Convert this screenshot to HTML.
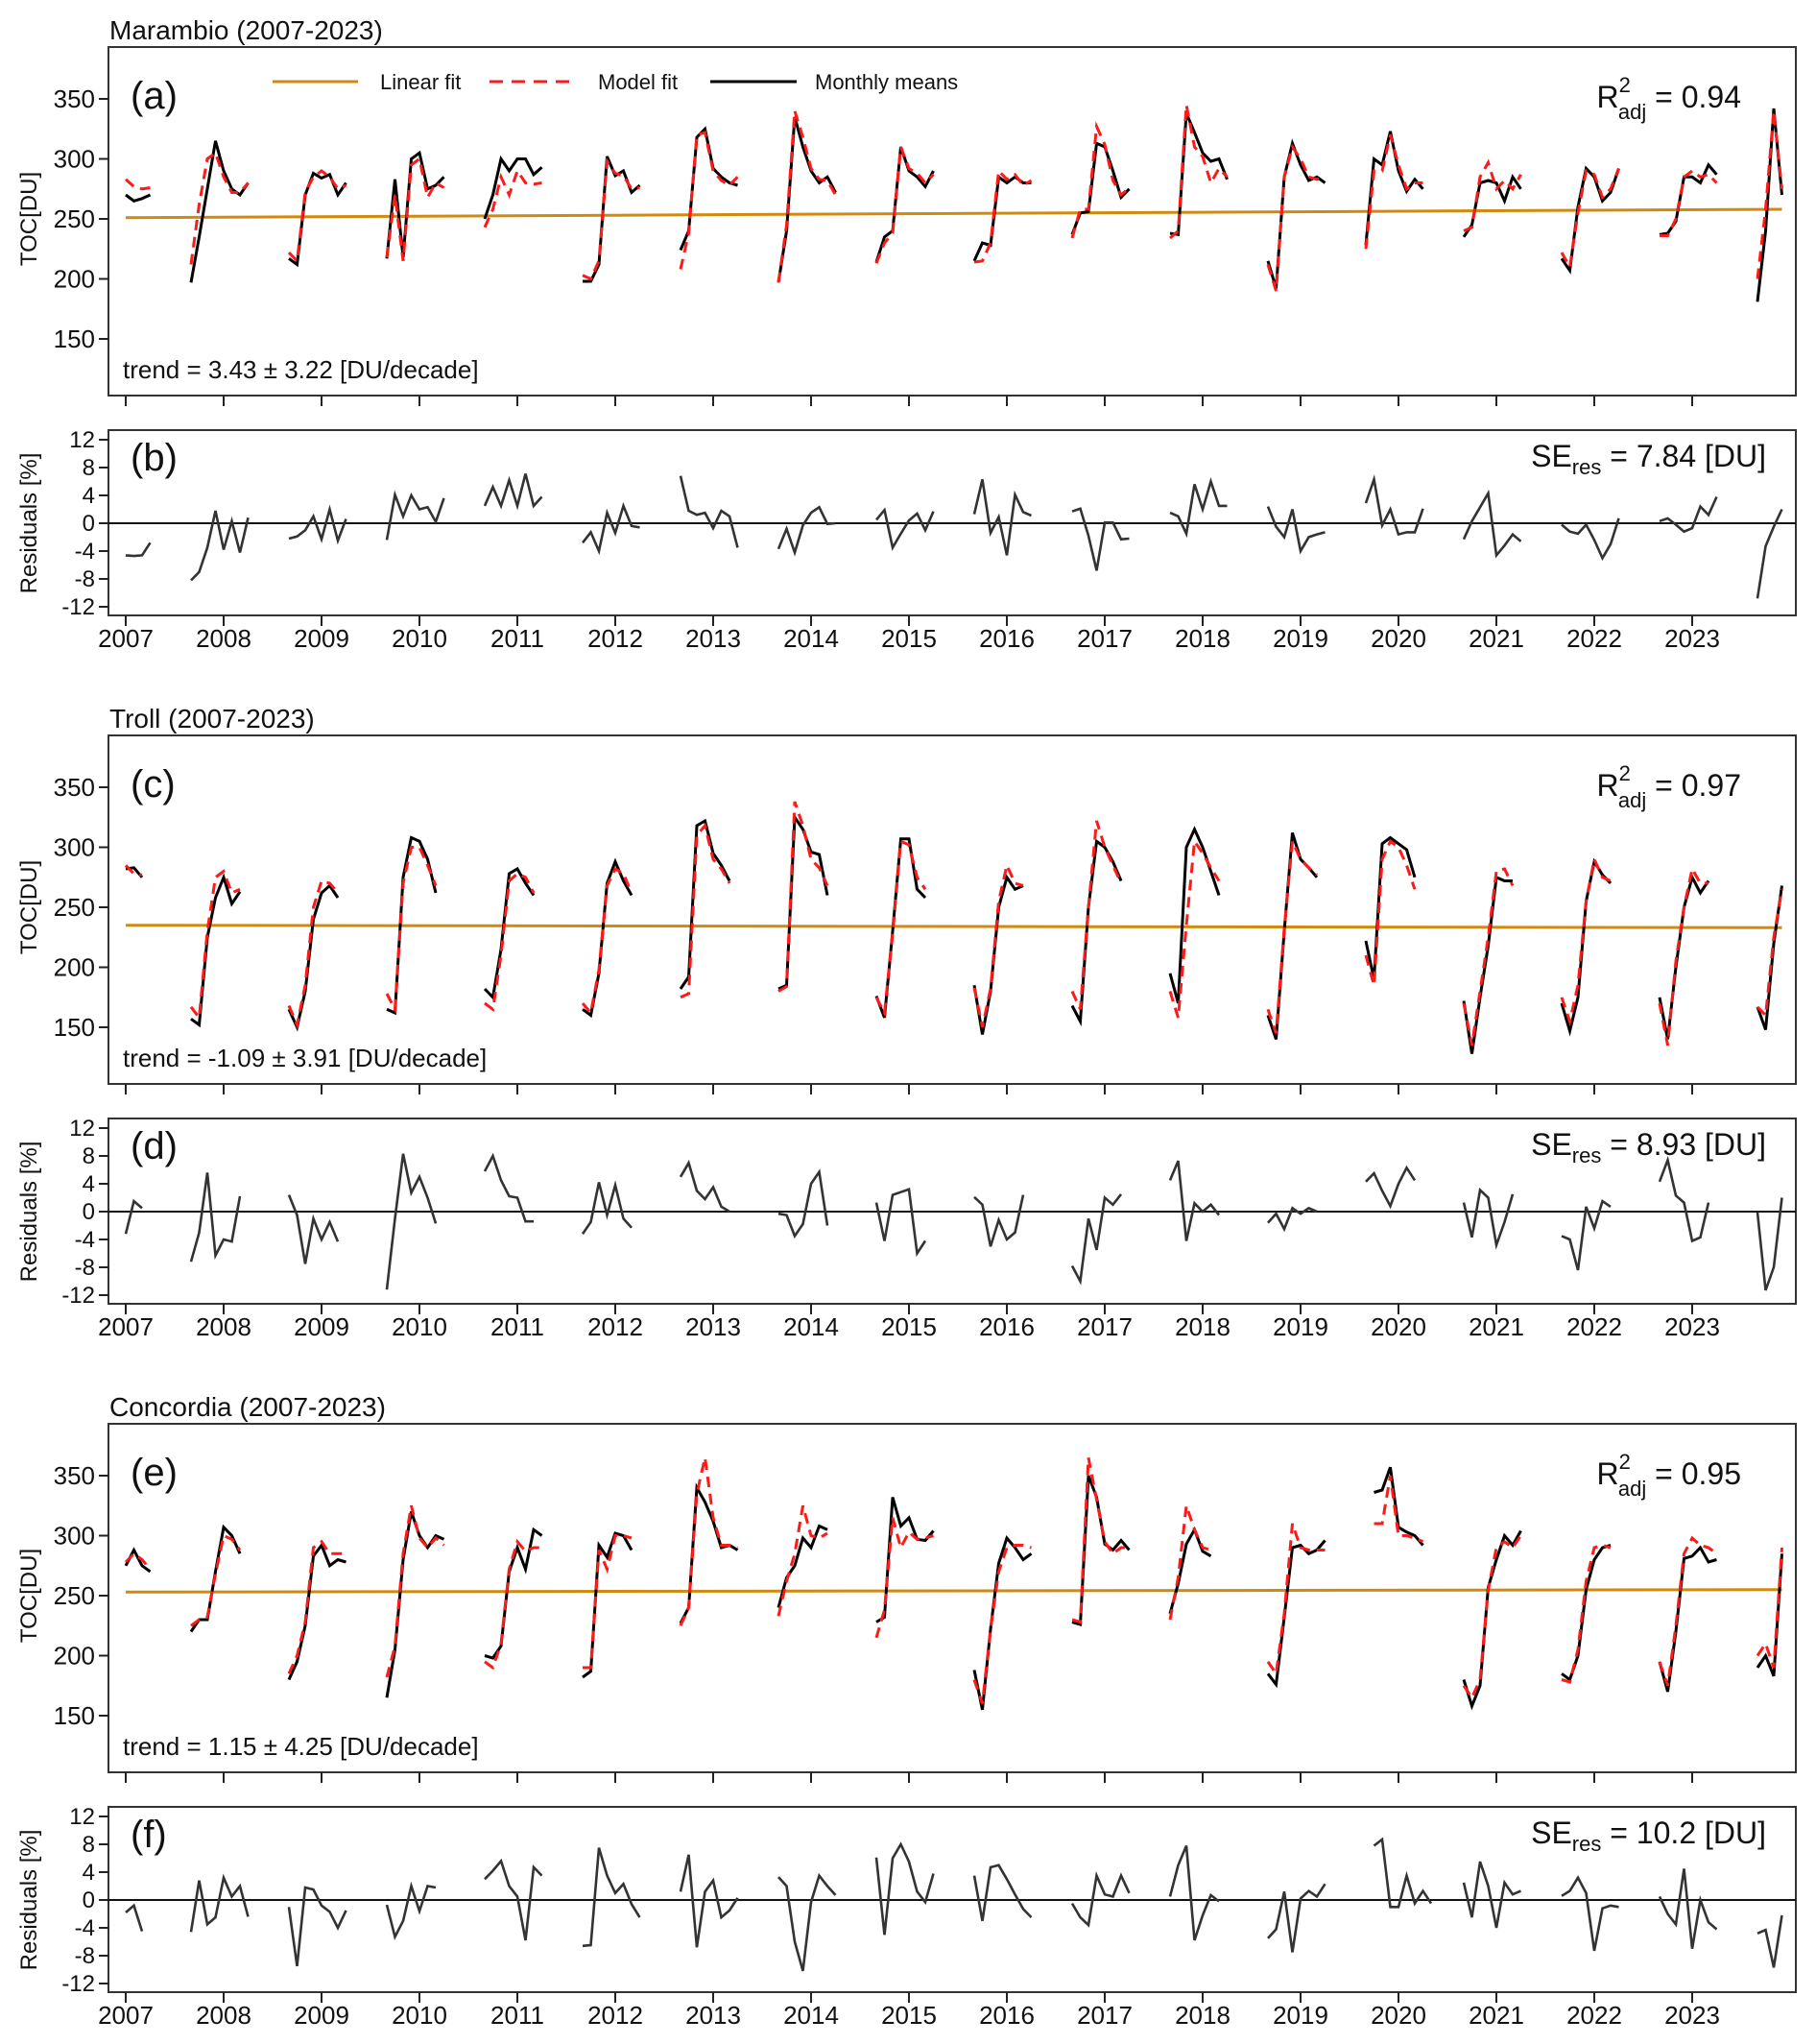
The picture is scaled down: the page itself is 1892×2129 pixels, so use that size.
<!DOCTYPE html>
<html><head><meta charset="utf-8"><style>
html,body{margin:0;padding:0;background:#fff;}
svg{display:block;font-family:"Liberation Sans",Arial,sans-serif;}
</style></head><body>
<svg id="fig" width="1892" height="2129" viewBox="0 0 1892 2129" xmlns="http://www.w3.org/2000/svg"></svg>
<script>
// ---------- data ----------
const yearTicks = [2007,2008,2009,2010,2011,2012,2013,2014,2015,2016,2017,2018,2019,2020,2021,2022,2023];
const tocTicks = [150,200,250,300,350];
const resTicks = [-12,-8,-4,0,4,8,12];
const stationNames = ["Marambio (2007-2023)","Troll (2007-2023)","Concordia (2007-2023)"];
const panelLetters = [["(a)","(b)"],["(c)","(d)"],["(e)","(f)"]];
const r2Values = ["0.94","0.97","0.95"];
const seValues = ["7.84","8.93","10.2"];
const trendTexts = ["trend = 3.43 ± 3.22 [DU/decade]","trend = -1.09 ± 3.91 [DU/decade]","trend = 1.15 ± 4.25 [DU/decade]"];
const linFitStart = [251,235,253];
const linFitEnd = [258,233,255];

// season start month index (months since Jan 2007)
const marStarts = [0,8,20,32,44,56,68,80,92,104,116,128,140,152,164,176,188,200];
const marObs = [[270,265,267,270],[197,235,275,315,290,275,270,280],[217,212,270,288,284,287,270,280],[217,283,218,300,305,275,278,285],[250,270,300,290,300,300,287,293],[198,198,212,302,286,290,272,278],[224,240,318,325,292,285,280,278],[197,240,335,310,290,280,285,272],[214,235,240,310,290,285,277,290],[215,230,228,285,280,285,280,280],[237,255,256,313,310,290,268,275],[238,237,338,322,305,298,300,283],[215,192,285,313,295,282,285,280],[228,300,295,323,290,273,283,275],[235,245,280,282,280,265,285,275],[217,207,260,292,285,265,272,292],[237,238,248,285,285,280,295,287],[181,240,342,270]];
const marModel = [[283,277,275,276],[212,262,300,305,285,272,272,280],[222,215,272,285,290,285,275,278],[218,270,215,295,300,268,280,276],[243,258,285,270,290,280,279,280],[203,200,215,298,288,286,275,276],[208,238,320,322,290,282,278,285],[197,245,340,318,292,283,282,270],[213,230,238,310,292,288,280,287],[214,215,230,290,283,287,278,282],[234,258,258,327,312,282,270,276],[234,240,345,310,302,280,292,285],[212,190,285,310,300,285,283,284],[225,290,290,320,295,275,280,280],[240,243,285,297,275,282,275,287],[222,210,255,290,287,268,275,292],[236,236,250,285,290,285,287,280],[200,258,340,275]];
const marRes = [[-4.6,-4.7,-4.6,-2.8],[-8.2,-7,-3.5,1.8,-3.8,0.3,-4.2,0.8],[-2.2,-1.9,-1,1,-2.3,2,-2.5,0.6],[-2.4,4.1,1,4,2,2.3,0.2,3.6],[2.5,5.2,2.5,6.2,2.5,7.1,2.5,3.8],[-2.8,-1.3,-4,1.5,-1.4,2.5,-0.4,-0.6],[6.8,1.8,1.2,1.5,-0.7,1.8,1,-3.5],[-3.7,-0.8,-4.2,-0.3,1.5,2.3,-0.1,0],[0.5,1.9,-3.5,-1.5,0.4,1.4,-1,1.7],[1.3,6.3,-1.4,0.9,-4.6,4.1,1.6,1.1],[1.7,2.1,-1.8,-6.8,0.1,0.1,-2.3,-2.2],[1.5,1,-1.5,5.6,2,6,2.5,2.5],[2.4,-0.5,-2,2,-4,-2,-1.6,-1.3],[2.9,6.3,-0.3,2,-1.6,-1.3,-1.3,2.1],[-2.3,0.3,2.3,4.3,-4.6,-3.2,-1.6,-2.6],[-0.2,-1.2,-1.5,-0.2,-2.4,-5,-3,0.7],[0.3,0.7,-0.2,-1.2,-0.7,2.4,1.2,3.8],[-10.8,-3.3,-0.5,2]];

const troStarts = [0,8,20,32,44,56,68,80,92,104,116,128,140,152,164,176,188,200];
const troObs = [[282,283,275],[157,152,225,258,275,253,263],[165,150,180,240,262,268,258],[165,162,275,308,305,290,262],[182,175,215,278,282,270,260],[165,160,195,270,288,272,260],[182,192,318,322,295,285,272],[182,185,325,315,296,294,260],[176,158,230,307,307,265,258],[185,144,180,250,275,265,268],[168,155,250,305,300,288,272],[195,170,300,315,300,280,260],[160,140,230,312,290,283,275],[222,190,303,308,303,298,275],[172,128,175,218,275,272,272],[170,147,175,255,288,277,270],[175,140,200,250,275,262,272],[167,148,220,268]];
const troModel = [[285,278,277],[167,158,230,275,280,262,265],[168,152,185,250,272,270,262],[178,165,270,300,300,285,268],[170,165,210,272,278,275,262],[170,162,198,268,282,278,262],[175,178,310,318,290,282,270],[180,184,338,318,290,283,268],[175,162,228,305,302,275,265],[183,150,182,255,285,270,268],[180,165,250,322,300,285,270],[180,158,235,305,295,283,272],[165,145,232,305,290,283,277],[210,185,290,305,300,285,265],[170,135,180,225,280,282,268],[175,155,185,255,290,275,272],[170,135,205,250,282,270,270],[167,160,225,265]];
const troRes = [[-3.2,1.5,0.5],[-7.2,-3,5.6,-6.3,-4,-4.3,2.2],[2.4,-0.5,-7.5,-1,-4,-1.5,-4.3],[-11.2,-1,8.3,2.7,5,2,-1.7],[5.8,8,4.5,2.2,2,-1.4,-1.4],[-3.2,-1.5,4.2,-0.5,3.8,-1,-2.3],[5,7,3,1.8,3.5,0.7,0],[-0.3,-0.5,-3.5,-1.8,4,5.7,-2],[1.3,-4.2,2.4,2.8,3.2,-6,-4.2],[2.1,1,-5,-1.2,-4,-3,2.4],[-7.8,-10,-1,-5.5,2,1,2.5],[4.5,7.3,-4.2,1.2,0,1,-0.5],[-1.6,-0.3,-2.5,0.5,-0.3,0.5,0],[4.3,5.5,3,0.8,4,6.3,4.5],[1.3,-3.7,3.1,2,-4.8,-1.5,2.5],[-3.5,-4,-8.4,0.7,-2.4,1.5,0.7],[4.3,7.4,2.3,1.3,-4.2,-3.7,1.3],[-0.1,-11.3,-8,2]];

const conStarts = [0,8,20,32,44,56,68,80,92,104,116,128,140,153,164,176,188,200];
const conObs = [[275,288,275,270],[220,230,230,270,307,300,285],[180,195,225,283,292,275,280,278],[165,205,280,320,300,290,300,297],[200,198,208,270,290,272,305,300],[182,187,292,282,302,300,288],[227,240,340,328,312,290,292,288],[240,265,275,298,290,308,305],[228,232,332,308,315,297,296,304],[188,155,222,277,298,290,280,285],[228,226,350,332,293,288,296,288],[235,260,293,305,287,283],[185,176,232,290,292,285,288,296],[336,338,357,307,303,300,292],[180,158,175,257,280,300,292,304],[185,180,200,255,280,290,292],[195,170,220,281,283,290,278,280],[190,200,183,285]];
const conModel = [[278,285,280,272],[225,230,232,268,300,297,288],[185,200,228,290,295,285,285,285],[182,208,285,325,298,290,298,292],[195,190,210,272,295,287,290,290],[190,190,288,272,300,300,298],[225,240,335,365,315,292,292,290],[233,262,285,325,300,298,302],[215,238,315,290,303,297,298,300],[180,160,222,270,290,292,292,290],[230,228,365,330,295,285,290,290],[230,265,325,305,290,288],[195,185,235,310,290,288,288,288],[310,310,350,300,300,298,295],[175,165,180,255,290,295,290,300],[180,178,205,262,290,292,290],[195,175,225,285,298,292,290,285],[200,210,190,290]];
const conRes = [[-1.8,-0.8,-4.5],[-4.6,2.8,-3.5,-2.5,3.2,0.5,2,-2.4],[-1,-9.5,1.8,1.5,-0.8,-1.7,-4,-1.5],[-0.7,-5.3,-3,2,-1.6,2,1.8],[3,4.2,5.6,2,0.5,-5.8,4.7,3.5],[-6.6,-6.5,7.5,3.5,1,2.3,-0.6,-2.5],[1.2,6.5,-6.8,1.2,2.8,-2.5,-1.5,0.3],[3.3,2,-6,-10.2,-0.3,3.5,2,0.7],[6.1,-5,6,8,5.5,1.2,-0.3,3.8],[3.5,-3,4.7,5,3,0.8,-1.3,-2.5],[-0.5,-2.5,-3.6,3.5,0.8,0.5,3.5,1],[0.5,5,7.8,-5.8,-2.2,0.7,-0.2],[-5.5,-4.2,1.2,-7.5,0.2,1.3,0.5,2.3],[7.8,8.7,-1,-1,3.5,-0.5,1.3,-0.5],[2.5,-2.5,5.5,2,-4,2.5,0.8,1.3],[0.6,1.3,3.2,1,-7.3,-1.2,-0.8,-1],[0.5,-2,-3.5,4.5,-7,0,-3.2,-4.2],[-4.8,-4.3,-9.7,-2.2]];

const allStarts = [marStarts, troStarts, conStarts];
const allObs = [marObs, troObs, conObs];
const allModel = [marModel, troModel, conModel];
const allRes = [marRes, troRes, conRes];

// ---------- drawing ----------
const NS = "http://www.w3.org/2000/svg";
const svg = document.getElementById("fig");
const L = 113, R = 1871, X0 = 131, YRPX = 102, STEP = 717;
function xMonth(m){ return X0 + m * YRPX / 12; }
function xYear(y){ return X0 + (y - 2007) * YRPX; }
function mk(tag, attrs, parent){
  const e = document.createElementNS(NS, tag);
  for (const k in attrs) e.setAttribute(k, attrs[k]);
  (parent || svg).appendChild(e);
  return e;
}
function txt(s, attrs, parent){ const t = mk("text", attrs, parent); t.textContent = s; return t; }

for (let s = 0; s < 3; s++) {
  const off = s * STEP;
  const g = mk("g", {});
  
  
  const aT = 49 + off, aB = 412 + off, bT = 448 + off, bB = 641 + off;
  const yT = v => 228 + off - (v - 250) * 1.25;
  const yR = v => 545 + off - v * 7.25;

  const title = txt(stationNames[s], {x:114, y:41+off, "font-size":28, fill:"#111"}, g);
  
  

  const fa = mk("rect", {x:L, y:aT, width:R-L, height:aB-aT, fill:"none", stroke:"#333", "stroke-width":2}, g);
  
  
  const fb = mk("rect", {x:L, y:bT, width:R-L, height:bB-bT, fill:"none", stroke:"#333", "stroke-width":2}, g);
  
  

  tocTicks.forEach(v => {
    mk("line", {x1:L-10, x2:L, y1:yT(v), y2:yT(v), stroke:"#222", "stroke-width":2}, g);
    const t = txt(String(v), {x:L-14, y:yT(v)+9, "font-size":26, "text-anchor":"end", fill:"#111"}, g);
    
    
  });
  resTicks.forEach(v => {
    mk("line", {x1:L-10, x2:L, y1:yR(v), y2:yR(v), stroke:"#222", "stroke-width":2}, g);
    const t = txt(String(v), {x:L-14, y:yR(v)+8, "font-size":24, "text-anchor":"end", fill:"#111"}, g);
    
    
  });
  yearTicks.forEach(y => {
    mk("line", {x1:xYear(y), x2:xYear(y), y1:aB, y2:aB+11, stroke:"#222", "stroke-width":2}, g);
    mk("line", {x1:xYear(y), x2:xYear(y), y1:bB, y2:bB+11, stroke:"#222", "stroke-width":2}, g);
    const t = txt(String(y), {x:xYear(y), y:674+off, "font-size":26, "text-anchor":"middle", fill:"#111"}, g);
    
    
  });
  const yt1 = txt("TOC[DU]", {x:0, y:0, "font-size":24, "text-anchor":"middle", fill:"#111", transform:`translate(38,${228+off}) rotate(-90)`}, g);
  
  
  const yt2 = txt("Residuals [%]", {x:0, y:0, "font-size":24, "text-anchor":"middle", fill:"#111", transform:`translate(38,${545+off}) rotate(-90)`}, g);
  
  

  const z = mk("line", {x1:L, x2:R, y1:yR(0), y2:yR(0), stroke:"#111", "stroke-width":2}, g);
  
  

  const lf = mk("line", {x1:xMonth(0), x2:xMonth(203), y1:yT(linFitStart[s]), y2:yT(linFitEnd[s]), stroke:"#d08a10", "stroke-width":3}, g);
  
  

  const starts = allStarts[s];
  function series(arr, yf, style, name){
    arr.forEach((seg, i) => {
      const pts = seg.map((v, j) => xMonth(starts[i] + j).toFixed(1) + "," + yf(v).toFixed(1)).join(" ");
      const p = mk("polyline", Object.assign({points:pts, fill:"none", "stroke-linejoin":"miter"}, style), g);
      
      
    });
  }
  series(allObs[s], yT, {stroke:"#000", "stroke-width":3}, 'monthly-means-line');
  series(allModel[s], yT, {stroke:"#ff1a1a", "stroke-width":3, "stroke-dasharray":"11,7"}, 'model-fit-line');
  series(allRes[s], yR, {stroke:"#333", "stroke-width":2.6}, 'residual-line');

  const la = txt(panelLetters[s][0], {x:136, y:113+off, "font-size":40, fill:"#111"}, g);
  
  
  const lb = txt(panelLetters[s][1], {x:136, y:490+off, "font-size":40, fill:"#111"}, g);
  
  
  const tr = txt(trendTexts[s], {x:128, y:394+off, "font-size":26, fill:"#111"}, g);
  
  

  const r2 = mk("text", {x:1814, y:112+off, "font-size":32, "text-anchor":"end", fill:"#111"}, g);
  
  
  r2.innerHTML = `R<tspan font-size="22" dy="-16" dx="0">2</tspan><tspan font-size="22" dy="28" dx="-13">adj</tspan><tspan dy="-12"> = ${r2Values[s]}</tspan>`;

  const se = mk("text", {x:1840, y:486+off, "font-size":32, "text-anchor":"end", fill:"#111"}, g);
  
  
  se.innerHTML = `SE<tspan font-size="22" dy="8">res</tspan><tspan dy="-8"> = ${seValues[s]} [DU]</tspan>`;
}

const lg = mk("g", {});


mk("line", {x1:284, x2:373, y1:85, y2:85, stroke:"#d08a10", "stroke-width":3}, lg);
const l1 = txt("Linear fit", {x:396, y:93, "font-size":22, fill:"#111"}, lg);


mk("line", {x1:510, x2:600, y1:85, y2:85, stroke:"#ff1a1a", "stroke-width":3, "stroke-dasharray":"14,9"}, lg);
const l2 = txt("Model fit", {x:623, y:93, "font-size":22, fill:"#111"}, lg);


mk("line", {x1:740, x2:830, y1:85, y2:85, stroke:"#000", "stroke-width":3}, lg);
const l3 = txt("Monthly means", {x:849, y:93, "font-size":22, fill:"#111"}, lg);


</script>
</body></html>
